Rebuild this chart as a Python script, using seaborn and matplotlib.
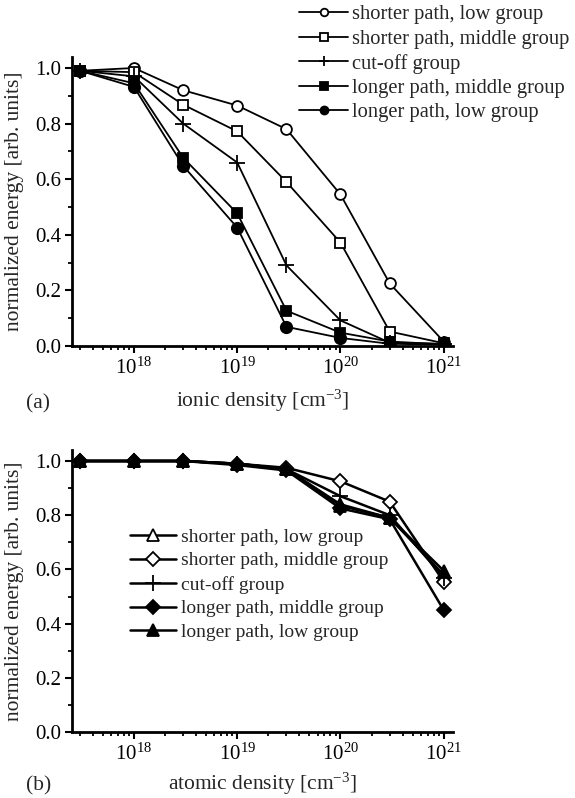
import matplotlib
matplotlib.use("Agg")
import matplotlib.pyplot as plt
import pandas as pd
import seaborn as sns
from matplotlib.ticker import LogLocator, MultipleLocator, FormatStrFormatter, NullFormatter

# densities (cm^-3) at which energies were measured
density = [3e17, 1e18, 3e18, 1e19, 3e19, 1e20, 3e20, 1e21]

series_names = [
    "shorter path, low group",
    "shorter path, middle group",
    "cut-off group",
    "longer path, middle group",
    "longer path, low group",
]

# panel (a): versus ionic density
ionic_short_low = [0.99, 1.00, 0.92, 0.865, 0.78, 0.545, 0.225, 0.016]
ionic_short_mid = [0.99, 0.985, 0.868, 0.772, 0.59, 0.372, 0.052, 0.010]
ionic_cutoff = [0.99, 0.97, 0.80, 0.66, 0.29, 0.092, 0.012, 0.008]
ionic_long_mid = [0.99, 0.945, 0.677, 0.477, 0.127, 0.048, 0.016, 0.006]
ionic_long_low = [0.99, 0.932, 0.648, 0.426, 0.069, 0.029, 0.008, 0.005]

# panel (b): versus atomic density
atomic_short_low = [1.0, 1.0, 1.0, 0.99, 0.97, 0.84, 0.79, 0.58]
atomic_short_mid = [1.0, 1.0, 1.0, 0.99, 0.975, 0.925, 0.85, 0.555]
atomic_cutoff = [1.0, 1.0, 1.0, 0.99, 0.97, 0.87, 0.80, 0.57]
atomic_long_mid = [1.0, 1.0, 1.0, 0.985, 0.965, 0.825, 0.785, 0.45]
atomic_long_low = [1.0, 1.0, 1.0, 0.99, 0.97, 0.835, 0.79, 0.595]

ionic_values = [ionic_short_low, ionic_short_mid, ionic_cutoff, ionic_long_mid, ionic_long_low]
atomic_values = [atomic_short_low, atomic_short_mid, atomic_cutoff, atomic_long_mid, atomic_long_low]

sns.set_theme(style="ticks")
plt.rcParams["font.family"] = ["Liberation Serif", "DejaVu Serif"]
plt.rcParams["mathtext.default"] = "regular"

W, H = 575, 798

# marker style per series: (marker, face colour, size)
style_a = [("o", "white", 7.8), ("s", "white", 7.5), ("+", "black", 11), ("s", "black", 7.5), ("o", "black", 8.2)]
style_b = [("^", "white", 8.5), ("D", "white", 7.5), ("+", "black", 11), ("D", "black", 7.5), ("^", "black", 8.5)]

fig = plt.figure(figsize=(W / 100, H / 100), dpi=100)
# panel (a): x from 72 to 453 px, y = 0 at 346 px, 278 px per unit
ax_a = fig.add_axes([72 / W, 1 - 346 / H, 381 / W, (278 * 1.04) / H])
# panel (b): y = 0 at 732 px, 271 px per unit
ax_b = fig.add_axes([72 / W, 1 - 732 / H, 381 / W, (271 * 1.04) / H])


def draw_panel(ax, values, styles, lw):
    frames = []
    for name, vals in zip(series_names, values):
        frames.append(pd.DataFrame({"density": density, "energy": vals, "series": name}))
    df = pd.concat(frames, ignore_index=True)
    for name, (mk, fc, ms) in zip(series_names, styles):
        sub = df[df["series"] == name]
        sns.lineplot(data=sub, x="density", y="energy", ax=ax, color="black",
                     linewidth=lw, marker=mk, markersize=ms, markerfacecolor=fc,
                     markeredgecolor="black", markeredgewidth=1.3, label=name,
                     estimator=None, sort=False)
    ax.set_xscale("log")
    ax.set_xlim(10 ** 17.40, 10 ** 21.09)
    ax.set_ylim(0.0, 1.04)
    ax.xaxis.set_major_locator(LogLocator(base=10, numticks=10))
    ax.xaxis.set_minor_locator(LogLocator(base=10, subs=range(2, 10), numticks=20))
    ax.xaxis.set_minor_formatter(NullFormatter())
    ax.yaxis.set_major_locator(MultipleLocator(0.2))
    ax.yaxis.set_minor_locator(MultipleLocator(0.1))
    ax.yaxis.set_major_formatter(FormatStrFormatter("%.1f"))
    for s in ("top", "right"):
        ax.spines[s].set_visible(False)
    for s in ("left", "bottom"):
        ax.spines[s].set_linewidth(2.0)
        ax.spines[s].set_color("black")
    ax.tick_params(which="major", direction="out", length=5, width=1.5, labelsize=15,
                   colors="black", pad=3)
    ax.tick_params(which="minor", direction="out", length=3, width=1.3, colors="black")
    ax.set_ylabel("normalized energy [arb. units]", fontsize=15.5)
    ax.yaxis.set_label_coords(-48 / 381, 0.5)


draw_panel(ax_a, ionic_values, style_a, 1.3)
draw_panel(ax_b, atomic_values, style_b, 1.8)

ax_a.set_xlabel("ionic density [cm$^{-3}$]", fontsize=15.5, labelpad=7)
ax_b.set_xlabel("atomic density [cm$^{-3}$]", fontsize=15.5, labelpad=5)

ax_a.legend(loc="upper left", bbox_to_anchor=(299 / W, 1 - 5 / H),
            bbox_transform=fig.transFigure, frameon=False, fontsize=14.8,
            handlelength=2.4, handletextpad=0.2, labelspacing=0.24,
            markerscale=0.7, borderpad=0, borderaxespad=0)
ax_b.legend(loc="upper left", bbox_to_anchor=(130 / W, 1 - 528 / H),
            bbox_transform=fig.transFigure, frameon=False, fontsize=14,
            handlelength=2.37, handletextpad=0.26, labelspacing=0.32,
            borderpad=0, borderaxespad=0)

fig.text(26 / W, 1 - 404 / H, "(a)", fontsize=15.5, ha="left", va="center")
fig.text(26 / W, 1 - 786 / H, "(b)", fontsize=15.5, ha="left", va="center")

fig.savefig("out.png", dpi=100, facecolor="white")
